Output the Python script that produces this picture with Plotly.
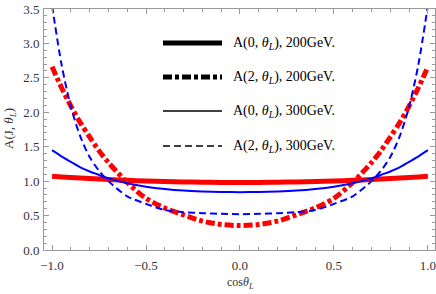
import plotly.graph_objects as go

# ---- data ----
cos_theta = [-1.0, -0.95, -0.9, -0.85, -0.8, -0.75, -0.7, -0.6, -0.5, -0.4, -0.3, -0.2, -0.1, 0.0,
             0.1, 0.2, 0.3, 0.4, 0.5, 0.6, 0.7, 0.75, 0.8, 0.85, 0.9, 0.95, 1.0]

half_red_J0 = [1.07, 1.061, 1.053, 1.045, 1.038, 1.031, 1.024, 1.012, 1.002, 0.994, 0.988, 0.984, 0.981, 0.98]
half_red_J2 = [2.66, 2.36, 2.09, 1.85, 1.64, 1.44, 1.27, 0.98, 0.75, 0.61, 0.51, 0.42, 0.37, 0.355]
half_blue_J0 = [1.45, 1.36, 1.28, 1.20, 1.14, 1.09, 1.04, 0.97, 0.92, 0.886, 0.863, 0.85, 0.842, 0.84]
half_blue_J2 = [3.55, 2.70, 2.08, 1.65, 1.35, 1.15, 1.0, 0.78, 0.67, 0.58, 0.55, 0.535, 0.525, 0.52]

A0_200 = half_red_J0 + half_red_J0[-2::-1]
A2_200 = half_red_J2 + half_red_J2[-2::-1]
A0_300 = half_blue_J0 + half_blue_J0[-2::-1]
A2_300 = half_blue_J2 + half_blue_J2[-2::-1]

x_tickvals = [-1.0, -0.5, 0.0, 0.5, 1.0]
x_ticktext = ["\u22121.0", "\u22120.5", "0.0", "0.5", "1.0"]
y_tickvals = [0.0, 0.5, 1.0, 1.5, 2.0, 2.5, 3.0, 3.5]
y_ticktext = ["0.0", "0.5", "1.0", "1.5", "2.0", "2.5", "3.0", "3.5"]

legend_labels = [
    "A(0, <i>\u03b8</i><sub><i>L</i></sub>), 200GeV.",
    "A(2, <i>\u03b8</i><sub><i>L</i></sub>), 200GeV.",
    "A(0, <i>\u03b8</i><sub><i>L</i></sub>), 300GeV.",
    "A(2, <i>\u03b8</i><sub><i>L</i></sub>), 300GeV.",
]
x_title = "cos<i>\u03b8</i><sub><i>L</i></sub>"
y_title = "A(J, <i>\u03b8</i><sub><i>L</i></sub>)"

# ---- styling ----
W, H = 436, 294
ML, MR, MT, MB = 44, 1, 9, 44
PW, PH = W - ML - MR, H - MT - MB
SERIF = "Liberation Serif, Times New Roman, serif"
DASHDOT = "9px,3px,4px,3px"
DASHED = "7px,4px"

series = [
    (A0_200, "red", 5, "solid"),
    (A2_200, "red", 5, DASHDOT),
    (A0_300, "blue", 2, "solid"),
    (A2_300, "blue", 2, DASHED),
]

fig = go.Figure()
for ys, col, w, dash in series:
    fig.add_trace(go.Scatter(
        x=cos_theta, y=ys, mode="lines",
        line=dict(color=col, width=w, dash=dash, shape="spline", smoothing=0.8),
        showlegend=False, hoverinfo="skip",
    ))

axis_common = dict(
    showgrid=False, zeroline=False, showline=True, linecolor="#999999", linewidth=1,
    mirror="ticks", ticks="inside", ticklen=5, tickcolor="#999999", tickwidth=1,
    tickfont=dict(family=SERIF, size=13, color="#333333"), automargin=False,
)

fig.update_xaxes(
    range=[-1.043, 1.038], tickmode="array", tickvals=x_tickvals, ticktext=x_ticktext,
    minor=dict(dtick=0.1, ticks="inside", ticklen=3, tickcolor="#999999", tickwidth=1, showgrid=False),
    ticklabelstandoff=3,
    **axis_common,
)
fig.update_yaxes(
    range=[0, 3.5], tickmode="array", tickvals=y_tickvals, ticktext=y_ticktext,
    minor=dict(dtick=0.1, ticks="inside", ticklen=3, tickcolor="#999999", tickwidth=1, showgrid=False),
    ticklabelstandoff=1,
    **axis_common,
)

def px_to_paper(px, py):
    return (px - ML) / PW, (H - MB - py) / PH

# axis titles
tx, ty = px_to_paper(240, 283)
fig.add_annotation(xref="paper", yref="paper", x=tx, y=ty, text=x_title, showarrow=False,
                   xanchor="center", yanchor="middle",
                   font=dict(family=SERIF, size=12, color="#333333"))
tx, ty = px_to_paper(9, 129)
fig.add_annotation(xref="paper", yref="paper", x=tx, y=ty, text=y_title, showarrow=False,
                   xanchor="center", yanchor="middle", textangle=-90,
                   font=dict(family=SERIF, size=13, color="#333333"))

# ---- manual legend (black samples) ----
legend_rows_y = [43, 77, 111, 146]
legend_styles = [(5, "solid"), (5, DASHDOT), (1.5, "solid"), (1.5, DASHED)]
for ry, (w, dash), lab in zip(legend_rows_y, legend_styles, legend_labels):
    x0, y0 = px_to_paper(163, ry)
    x1, _ = px_to_paper(222, ry)
    fig.add_shape(type="line", xref="paper", yref="paper", x0=x0, x1=x1, y0=y0, y1=y0,
                  line=dict(color="black", width=w, dash=dash))
    tx, _ = px_to_paper(231, ry)
    fig.add_annotation(xref="paper", yref="paper", x=tx, y=y0, text=lab, showarrow=False,
                       xanchor="left", yanchor="middle",
                       font=dict(family=SERIF, size=14, color="black"))

fig.update_layout(
    width=W, height=H, margin=dict(l=ML, r=MR, t=MT, b=MB),
    paper_bgcolor="white", plot_bgcolor="white", showlegend=False,
)

fig.write_html("out.html", config={"displayModeBar": False},
               post_script="document.body.style.margin='0';document.body.style.overflow='hidden';")
